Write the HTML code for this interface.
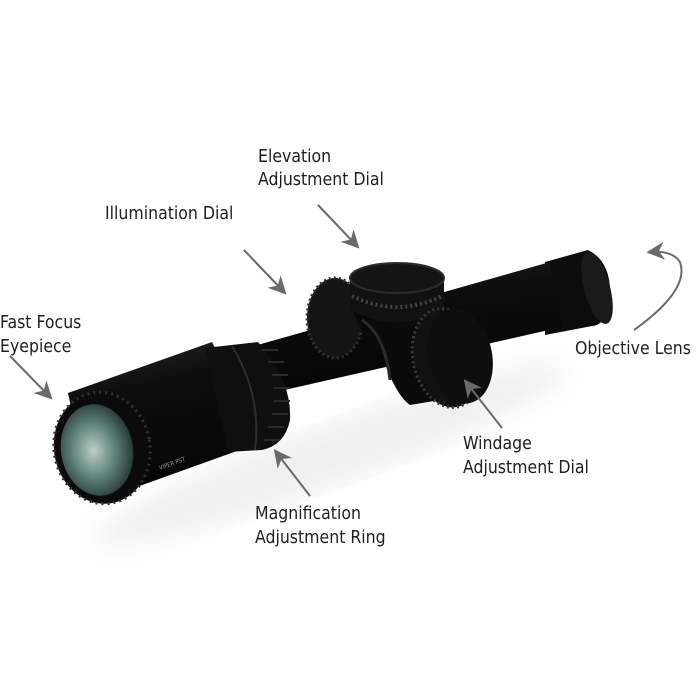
<!DOCTYPE html>
<html><head><meta charset="utf-8"><style>
html,body{margin:0;padding:0;background:#fff;}
svg{display:block}
text{font-family:"DejaVu Sans Condensed","Liberation Sans Narrow","Liberation Sans",sans-serif;font-size:17.5px;fill:#1e1e1e;}
</style></head><body>
<svg width="700" height="700" viewBox="0 0 700 700" xmlns="http://www.w3.org/2000/svg">
<defs>
<linearGradient id="tube" x1="0" y1="0" x2="0.25" y2="1">
<stop offset="0" stop-color="#2a2a2a"/><stop offset="0.35" stop-color="#0d0d0d"/><stop offset="1" stop-color="#050505"/>
</linearGradient>
<radialGradient id="lens" cx="0.45" cy="0.5" r="0.6">
<stop offset="0" stop-color="#b9cfc6"/><stop offset="0.5" stop-color="#5f827a"/><stop offset="1" stop-color="#1b2a28"/>
</radialGradient>
<filter id="blur"><feGaussianBlur stdDeviation="12"/></filter>
<marker id="ah" viewBox="0 0 20 20" refX="16" refY="10" markerWidth="9" markerHeight="9" orient="auto" markerUnits="strokeWidth">
<path d="M0,0 L20,10 L0,20 L6,10 Z" fill="#6a6a6a"/>
</marker>
</defs>
<!-- shadow -->
<ellipse cx="330" cy="455" rx="250" ry="30" fill="#f0f0f0" filter="url(#blur)" transform="rotate(-20 330 455)"/>
<!-- objective bell -->
<path d="M545,262 L588,250 Q612,262 610,298 Q607,325 592,326 L545,335 Z" fill="#0c0c0c"/>
<ellipse cx="597" cy="288" rx="13" ry="37" transform="rotate(-15 597 288)" fill="#1a1a1a"/>
<!-- main tube -->
<path d="M240,350 L550,262 L562,327 L258,396 Z" fill="url(#tube)"/>
<!-- illumination dial behind -->
<ellipse cx="335" cy="318" rx="28" ry="40" fill="#141414" stroke="#333" stroke-dasharray="2 3" stroke-width="3"/>
<!-- saddle -->
<path d="M350,300 Q360,340 380,350 Q395,395 410,405 L470,395 L455,300 Z" fill="#0a0a0a"/>
<path d="M362,320 Q385,335 390,380" stroke="#2a2a2a" stroke-width="3" fill="none"/>
<!-- top turret -->
<path d="M350,278 L350,310 Q397,335 444,310 L444,278 Z" fill="#111"/>
<path d="M352,296 Q397,318 442,296" stroke="#444" stroke-width="4" stroke-dasharray="2 3" fill="none"/>
<ellipse cx="397" cy="278" rx="47" ry="15" fill="#141414" stroke="#2c2c2c" stroke-width="2"/>
<!-- windage dial -->
<ellipse cx="447" cy="358" rx="34" ry="50" transform="rotate(-12 447 358)" fill="#111" stroke="#3a3a3a" stroke-dasharray="2 3" stroke-width="3"/>
<ellipse cx="460" cy="356" rx="32" ry="48" transform="rotate(-12 460 356)" fill="#0e0e0e"/>
<!-- eyepiece body -->
<path d="M68,393 L212,342 L262,442 L92,503 Z" fill="url(#tube)"/>
<!-- magnification ring -->
<path d="M205,348 L258,342 Q292,380 290,420 Q285,445 262,450 L228,452 Z" fill="#0f0f0f"/>
<path d="M232,346 Q262,395 255,450" stroke="#2e2e2e" stroke-width="2" fill="none"/>
<g stroke="#2a2a2a" stroke-width="2">
<line x1="262" y1="350" x2="278" y2="350"/><line x1="268" y1="362" x2="284" y2="362"/><line x1="272" y1="375" x2="288" y2="375"/><line x1="274" y1="388" x2="290" y2="388"/><line x1="274" y1="401" x2="290" y2="401"/><line x1="272" y1="414" x2="288" y2="414"/><line x1="268" y1="427" x2="284" y2="427"/><line x1="264" y1="440" x2="280" y2="440"/>
</g>
<!-- eyepiece lens -->
<ellipse cx="102" cy="448" rx="48" ry="56" transform="rotate(-10 102 448)" fill="#0b0b0b" stroke="#333" stroke-dasharray="2 4" stroke-width="3"/>
<ellipse cx="97" cy="450" rx="36" ry="46" transform="rotate(-10 97 450)" fill="url(#lens)"/>
<text x="160" y="470" style="font-size:6px;fill:#999" transform="rotate(-20 160 470)">VIPER PST</text>
<!-- arrows -->
<g stroke="#6a6a6a" stroke-width="2" fill="none">
<line x1="318" y1="205" x2="357" y2="246" marker-end="url(#ah)"/>
<line x1="244" y1="250" x2="284" y2="292" marker-end="url(#ah)"/>
<line x1="10" y1="356" x2="50" y2="397" marker-end="url(#ah)"/>
<line x1="502" y1="428" x2="466" y2="382" marker-end="url(#ah)"/>
<line x1="310" y1="496" x2="276" y2="452" marker-end="url(#ah)"/>
<path d="M634,330 Q690,290 680,262 Q672,250 650,252" marker-end="url(#ah)"/>
</g>
<!-- labels -->
<text x="258" y="162">Elevation</text>
<text x="258" y="185">Adjustment Dial</text>
<text x="105" y="219">Illumination Dial</text>
<text x="0" y="328">Fast Focus</text>
<text x="0" y="352">Eyepiece</text>
<text x="575" y="354">Objective Lens</text>
<text x="463" y="449">Windage</text>
<text x="463" y="473">Adjustment Dial</text>
<text x="255" y="519">Magnification</text>
<text x="255" y="543">Adjustment Ring</text>
</svg>
</body></html>
